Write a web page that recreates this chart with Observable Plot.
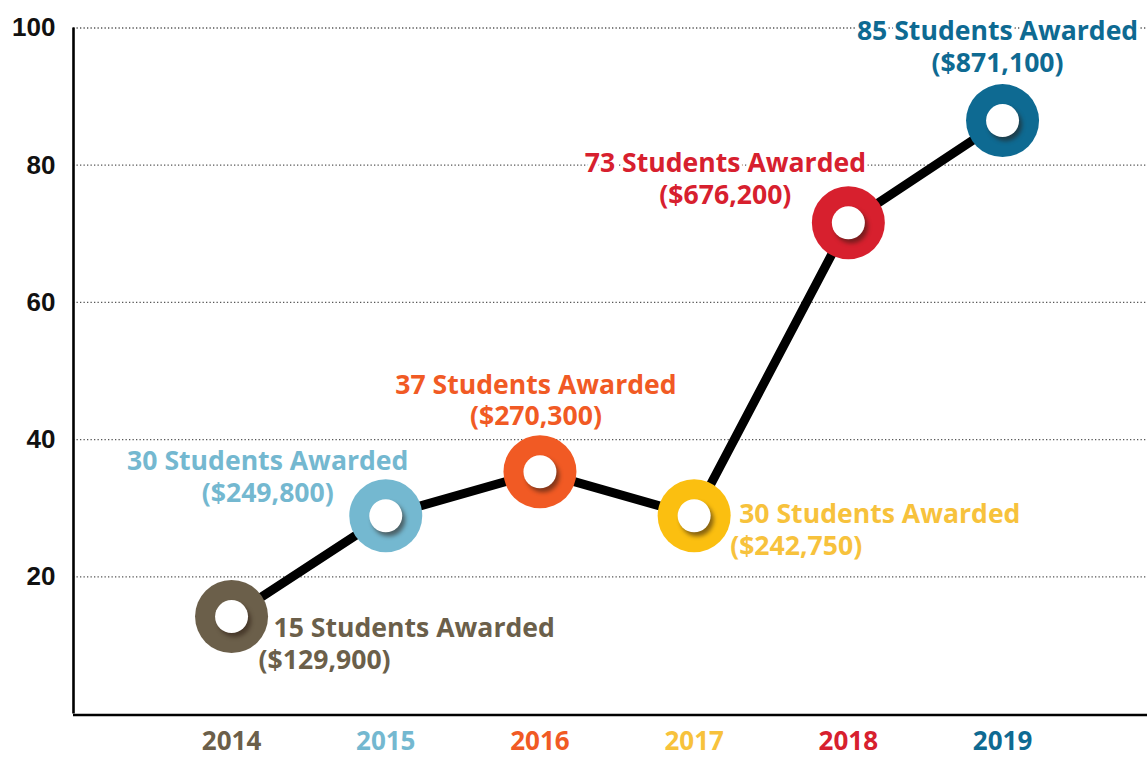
<!DOCTYPE html>
<html>
<head>
<meta charset="utf-8">
<script src="https://cdn.jsdelivr.net/npm/d3@7"></script>
<script src="https://cdn.jsdelivr.net/npm/@observablehq/plot@0.6"></script>
<style>
  html, body { margin: 0; padding: 0; background: #fff; }
  #chart svg { display: block; }
</style>
</head>
<body>
<div id="chart"></div>
<script>
// ---- data ----
const years = [2014, 2015, 2016, 2017, 2018, 2019];
const students = [15, 30, 37, 30, 73, 85];
const awards = ["$129,900", "$249,800", "$270,300", "$242,750", "$676,200", "$871,100"];
// marker heights as drawn in the picture
const plotted = [14.2, 28.9, 35.3, 28.9, 71.6, 86.5];
const colors = ["#6b5f4a", "#74b8d0", "#f15a24", "#fbbf10", "#d7202e", "#0e6a92"];
const labelColors = ["#6b5f4a", "#74b8d0", "#f15a24", "#f7c23c", "#d7202e", "#0e6a92"];
const yTicks = [20, 40, 60, 80, 100];

// ---- label layout (offsets from each marker, in px) ----
const labelLayout = [
  {anchor: "start",  l1: [42, 12],   l2: [27, 44]},
  {anchor: "middle", l1: [-118, -54], l2: [-118, -22]},
  {anchor: "middle", l1: [-4, -86],  l2: [-4, -55]},
  {anchor: "start",  l1: [45, -1],   l2: [36, 31]},
  {anchor: "middle", l1: [-123, -59], l2: [-123, -27]},
  {anchor: "middle", l1: [-5, -89],  l2: [-5, -57]}
];

const rows = years.map((year, i) => ({
  year, students: students[i], award: awards[i], value: plotted[i],
  color: colors[i], labelColor: labelColors[i]
}));

const labelFont = "'Open Sans', 'Noto Sans', sans-serif";
const xLeft = 2012.975;

const labelMarks = [];
rows.forEach((r, i) => {
  const L = labelLayout[i];
  const common = {
    x: "year", y: "value", textAnchor: L.anchor,
    fill: r.labelColor, fontSize: 26.6, fontWeight: 700, fontFamily: labelFont,
    stroke: "white", strokeWidth: 6, paintOrder: "stroke"
  };
  labelMarks.push(Plot.text([r], {...common, text: d => `${d.students} Students Awarded`, dx: L.l1[0], dy: L.l1[1]}));
  labelMarks.push(Plot.text([r], {...common, text: d => `(${d.award})`, dx: L.l2[0], dy: L.l2[1]}));
});

const chart = Plot.plot({
  width: 1147,
  height: 757,
  marginLeft: 73,
  marginRight: 0,
  marginTop: 27.5,
  marginBottom: 43.5,
  x: {domain: [xLeft, 2019.94], axis: null},
  y: {domain: [0, 100], axis: null},
  color: {type: "identity"},
  style: {background: "white"},
  marks: [
    Plot.ruleY(yTicks, {stroke: "#555", strokeWidth: 1.3, strokeDasharray: "1.3,2.2"}),
    Plot.axisY(yTicks, {
      anchor: "left", tickSize: 0, tickPadding: 18, label: null,
      fontSize: 26, fontWeight: 700, fontFamily: "'Liberation Sans', Arial, sans-serif", fill: "#111"
    }),
    Plot.ruleX([xLeft], {y1: 0, y2: 100, stroke: "#000", strokeWidth: 2.6}),
    Plot.ruleY([0], {stroke: "#000", strokeWidth: 2.6, dy: 1}),
    Plot.line(rows, {x: "year", y: "value", stroke: "#000", strokeWidth: 9}),
    Plot.dot(rows, {x: "year", y: "value", r: 36.5, fill: d => d.color}),
    Plot.dot(rows, {x: "year", y: "value", r: 16.5, fill: "#2a1a10", fillOpacity: 0.55, dx: 3, dy: 4, imageFilter: "blur(2px)"}),
    Plot.dot(rows, {x: "year", y: "value", r: 16.5, fill: "white"}),
    ...labelMarks,
    Plot.text(rows, {
      x: "year", frameAnchor: "bottom", dy: 36, text: d => String(d.year),
      fill: d => d.labelColor, fontSize: 26, fontWeight: 700, fontFamily: labelFont
    })
  ]
});

document.getElementById("chart").append(chart);
</script>
</body>
</html>
